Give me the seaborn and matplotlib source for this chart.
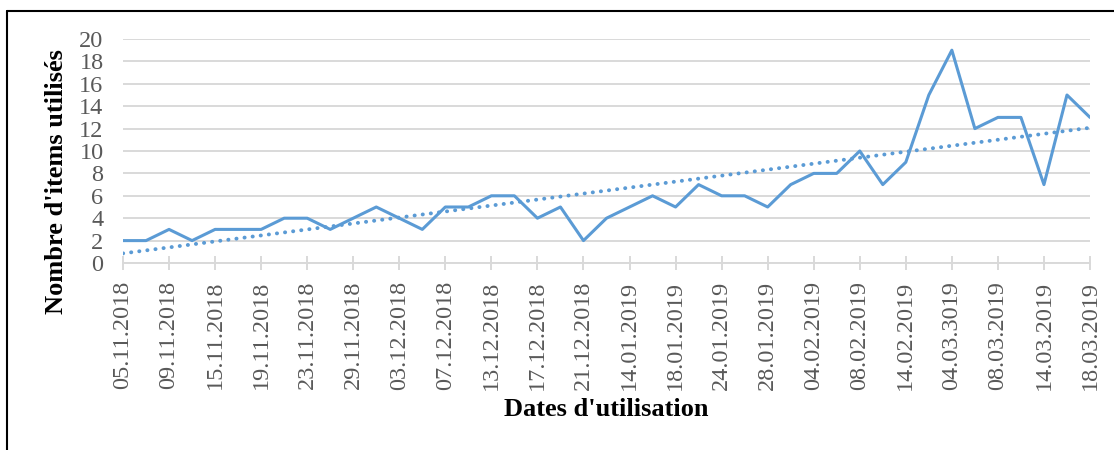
import matplotlib
matplotlib.use("Agg")
import matplotlib.pyplot as plt
from matplotlib.lines import Line2D
import seaborn as sns
import numpy as np
import pandas as pd

# ---- data ----
tick_labels = ["05.11.2018", "09.11.2018", "15.11.2018", "19.11.2018", "23.11.2018",
               "29.11.2018", "03.12.2018", "07.12.2018", "13.12.2018", "17.12.2018",
               "21.12.2018", "14.01.2019", "18.01.2019", "24.01.2019", "28.01.2019",
               "04.02.2019", "08.02.2019", "14.02.2019", "04.03.3019", "08.03.2019",
               "14.03.2019", "18.03.2019"]
items_used = [2, 2, 3, 2, 3, 3, 3, 4, 4, 3,
              4, 5, 4, 3, 5, 5, 6, 6, 4, 5,
              2, 4, 5, 6, 5, 7, 6, 6, 5, 7,
              8, 8, 10, 7, 9, 15, 19, 12, 13, 13,
              7, 15, 13]
y_ticks = [0, 2, 4, 6, 8, 10, 12, 14, 16, 18, 20]

df = pd.DataFrame({"idx": np.arange(len(items_used)), "items": items_used})

sns.set_theme(style="white")
plt.rcParams["font.family"] = ["Liberation Serif", "DejaVu Serif"]

W, H = 1114, 450
fig = plt.figure(figsize=(W / 100, H / 100), dpi=100)
ax = fig.add_axes([123 / W, 1 - 263 / H, (1090 - 123) / W, (263 - 39) / H])

blue = "#5b9bd5"
grid_c = "#d9d9d9"
tick_c = "#595959"

sns.lineplot(data=df, x="idx", y="items", ax=ax, color=blue, linewidth=2.2)
sns.regplot(data=df, x="idx", y="items", ax=ax, scatter=False, ci=None,
            line_kws=dict(color=blue, linewidth=2.8, linestyle=(0, (0.05, 2.05)),
                          dash_capstyle="round"))

ax.set_xlim(0, len(items_used) - 1)
ax.set_ylim(0, 20)
ax.set_yticks(y_ticks)
ax.set_yticklabels([str(v) for v in y_ticks])
ax.set_xticks(np.arange(0, len(items_used), 2))
ax.set_xticklabels(tick_labels, rotation=90)

ax.yaxis.grid(True, color=grid_c, linewidth=1.4)
ax.xaxis.grid(False)
ax.set_axisbelow(True)
for s in ["top", "right", "left"]:
    ax.spines[s].set_visible(False)
ax.spines["bottom"].set_color(grid_c)
ax.spines["bottom"].set_linewidth(1.4)

ax.tick_params(axis="x", direction="inout", length=10, width=1.4, color=grid_c,
               labelsize=17.5, labelcolor=tick_c, pad=8, bottom=True)
ax.tick_params(axis="y", length=0, labelsize=17.5, labelcolor=tick_c, pad=14, left=False)

ax.set_xlabel("Dates d'utilisation", fontsize=19, fontweight="bold", color="black")
ax.set_ylabel("Nombre d'items utilisés", fontsize=19, fontweight="bold", color="black")
ax.xaxis.label.set_verticalalignment("center")
ax.yaxis.label.set_verticalalignment("center")
ax.xaxis.set_label_coords(0.5, (263 - 409) / 224)
ax.yaxis.set_label_coords((57 - 123) / 967, (263 - 182) / 224)

# outer frame (top and left edges visible)
fig.add_artist(Line2D([7 / W, 1.0], [1 - 11 / H, 1 - 11 / H], transform=fig.transFigure,
                      color="black", linewidth=1.5))
fig.add_artist(Line2D([7 / W, 7 / W], [0.0, 1 - 11 / H], transform=fig.transFigure,
                      color="black", linewidth=1.5))

fig.savefig("out.png", dpi=100, facecolor="white")
